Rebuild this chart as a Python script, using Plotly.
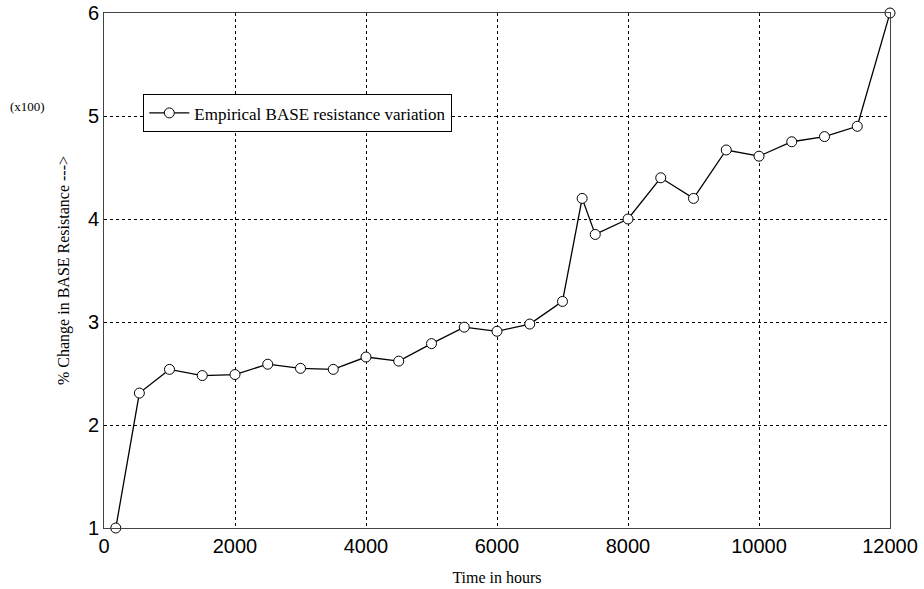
import plotly.graph_objects as go

hours = [180, 540, 1000, 1500, 2000, 2500, 3000, 3500, 4000, 4500, 5000, 5500,
         6000, 6500, 7000, 7300, 7500, 8000, 8500, 9000, 9500, 10000, 10500,
         11000, 11500, 12000]
change = [1.0, 2.31, 2.54, 2.48, 2.49, 2.59, 2.55, 2.54, 2.66, 2.62, 2.79, 2.95,
          2.91, 2.98, 3.20, 4.20, 3.85, 4.00, 4.40, 4.20, 4.67, 4.61, 4.75,
          4.80, 4.90, 6.0]
x_ticks = [0, 2000, 4000, 6000, 8000, 10000, 12000]
y_ticks = [1, 2, 3, 4, 5, 6]

fig = go.Figure()
fig.add_trace(go.Scatter(
    x=hours, y=change, mode="lines+markers",
    name="Empirical BASE resistance variation",
    line=dict(color="black", width=1.3),
    marker=dict(symbol="circle", size=10, color="white",
                line=dict(color="black", width=1)),
    cliponaxis=False,
))

serif = "Liberation Serif, Times New Roman, serif"
sans = "Liberation Sans, Arial, sans-serif"

fig.update_layout(
    width=924, height=589,
    margin=dict(l=104, r=34, t=13, b=61, autoexpand=False),
    paper_bgcolor="white", plot_bgcolor="white",
    showlegend=True,
    legend=dict(x=0.05, y=0.842, xanchor="left", yanchor="top",
                bgcolor="white", bordercolor="black", borderwidth=1,
                font=dict(family=serif, size=17, color="black"),
                itemwidth=40, tracegroupgap=0),
    xaxis=dict(range=[0, 12000], tickvals=x_ticks, automargin=False,
               ticktext=[str(v) for v in x_ticks],
               ticklabeloverflow="allow",
               tickfont=dict(family=sans, size=20, color="black"),
               showgrid=True, gridcolor="black", griddash="dot", gridwidth=1,
               showline=True, linecolor="#444", linewidth=1, mirror=True,
               zeroline=False, ticks="", ticklen=0,
               title=dict(text="Time in hours",
                          font=dict(family=serif, size=16, color="black"),
                          standoff=15)),
    yaxis=dict(range=[1, 6], tickvals=y_ticks, automargin=False,
               ticktext=[str(v) for v in y_ticks],
               ticklabeloverflow="allow",
               tickfont=dict(family=sans, size=20, color="black"),
               showgrid=True, gridcolor="black", griddash="dot", gridwidth=1,
               showline=True, linecolor="#444", linewidth=1, mirror=True,
               zeroline=False, ticks="", ticklen=0,
               title=dict(text="% Change in BASE Resistance --->",
                          font=dict(family=serif, size=16, color="black"),
                          standoff=14)),
)

fig.add_annotation(text="(x100)", xref="paper", yref="paper",
                   x=-0.122, y=0.818, xanchor="left", yanchor="middle",
                   showarrow=False,
                   font=dict(family=serif, size=13, color="black"))

fig.write_html("out.html", config={"displayModeBar": False},
               post_script="document.body.style.margin='0';")
